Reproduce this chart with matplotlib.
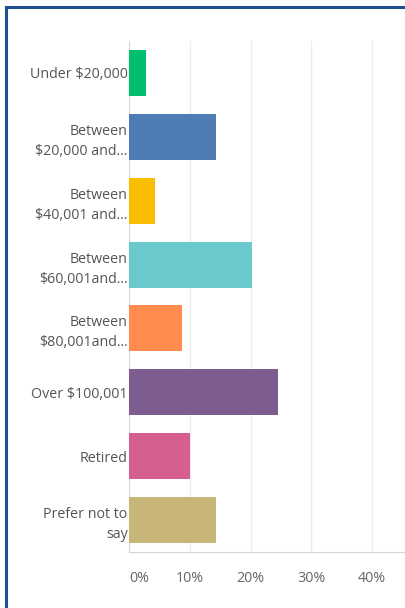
import numpy as np
import matplotlib.pyplot as plt
from matplotlib.patches import Rectangle

# survey answers (share of respondents, %)
labels = ['Under $20,000', 'Between\n$20,000 and...', 'Between\n$40,001 and...',
          'Between\n$60,001and...', 'Between\n$80,001and...', 'Over $100,001',
          'Retired', 'Prefer not to\nsay']
values = [2.8, 14.3, 4.3, 20.2, 8.7, 24.5, 10.0, 14.3]
colors = ['#00bf6f', '#507cb6', '#f9be00', '#6bc8cd', '#ff8b4f', '#7d5c8f',
          '#d65f92', '#c7b677']
ticks = [0, 10, 20, 30, 40]
tick_labels = ['0%', '10%', '20%', '30%', '40%']

plt.rcParams['font.family'] = ['Open Sans', 'DejaVu Sans']

fig = plt.figure(figsize=(4.06, 6.08), dpi=100)
# axes runs off the right edge like the cropped screenshot
ax = fig.add_axes([129 / 406, 1 - 552 / 608, 304 / 406, 511 / 608])

y = np.arange(len(labels))
ax.barh(y, values, height=0.72, color=colors, zorder=3)

ax.set_xlim(0, 50)
ax.set_ylim(len(labels) - 0.5, -0.5)
ax.set_xticks(ticks)
ax.set_xticklabels(tick_labels, fontsize=10.3, color='#666666')
ax.get_xticklabels()[0].set_ha('left')
ax.set_yticks(y)
ax.set_yticklabels(labels, fontsize=10.3, color='#555555', linespacing=1.45)
ax.tick_params(axis='both', length=0)
ax.tick_params(axis='x', pad=14)
ax.tick_params(axis='y', pad=1)

ax.grid(axis='x', color='#ededed', lw=1, zorder=0)
for s in ['top', 'right']:
    ax.spines[s].set_visible(False)
ax.spines['left'].set_color('#d8d8d8')
ax.spines['bottom'].set_color('#d4d4d4')

# blue frame around the screenshot (only top and left are visible)
fig.patches.append(Rectangle((6 / 406, -0.1), 1.2, 1 - 7 / 608 + 0.1,
                             transform=fig.transFigure, fill=False,
                             edgecolor='#1f4f8f', lw=2.2))

plt.savefig('out.png', dpi=100)
